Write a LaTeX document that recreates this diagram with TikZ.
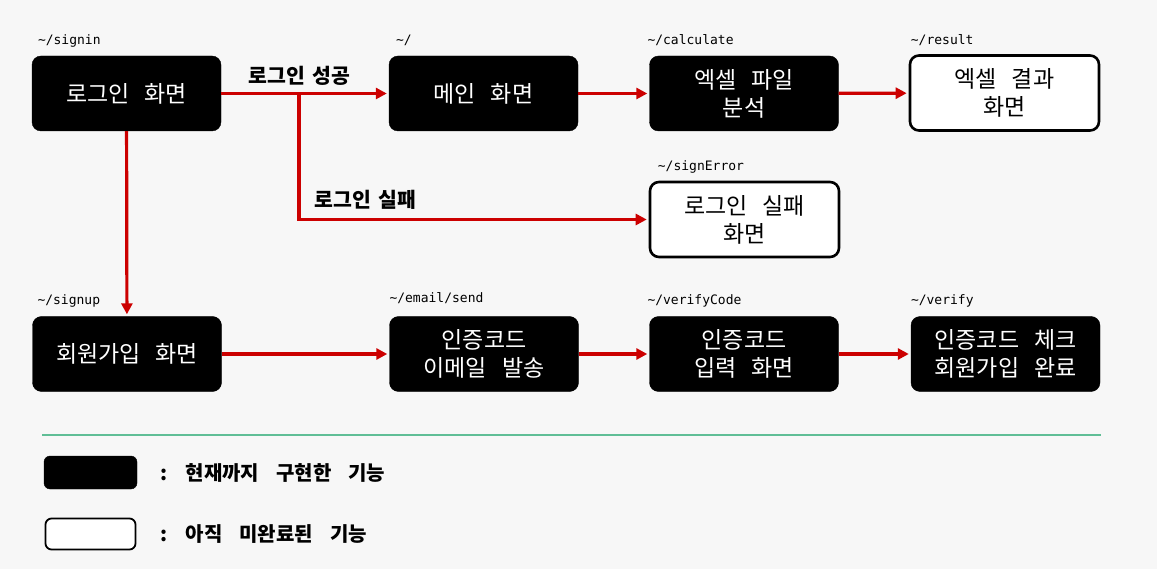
\documentclass[tikz,border=0pt]{standalone}
\usepackage{fontspec}
\setmainfont{Noto Sans CJK KR}[WordSpace=2.9]
\setmonofont{DejaVu Sans Mono}
\usetikzlibrary{arrows.meta,positioning}
\definecolor{paper}{RGB}{247,247,247}
\definecolor{flowred}{RGB}{204,0,0}
\definecolor{rulegreen}{RGB}{96,190,150}
\newcommand\condfont{\bfseries\fontsize{20.5}{21}\selectfont\spaceskip 7pt\relax}
\newcommand\keyfont{\bfseries\fontsize{20}{20}\selectfont\spaceskip 17pt\relax}

\begin{document}
\begin{tikzpicture}[x=1pt,y=-1pt,
  done/.style={draw=black,fill=black,text=white,rounded corners=9pt,
    minimum width=189pt,minimum height=75pt,align=center,inner sep=0pt,
    font=\fontsize{23}{28}\selectfont},
  todo/.style={done,fill=white,text=black,line width=2.6pt},
  route/.style={anchor=base west,inner sep=0pt,font=\ttfamily\fontsize{13}{13}\selectfont},
  cond/.style={inner sep=0pt,font=\condfont},
  flow/.style={draw=flowred,line width=3.2pt,shorten >=2pt,-{Triangle[length=11pt,width=11pt]}},
  key/.style={font=\keyfont,anchor=west,inner sep=0pt}
  ]
  \fill[paper] (0,0) rectangle (1157,569);

  % top row
  \node[done] (signin) at (126.5,93.5) {로그인 화면};
  \node[done] (main) at (483.5,93.5) {메인 화면};
  \node[done] (calc) at (744,93.5) {엑셀 파일\\분석};
  \node[todo] (result) at (1004.5,93) {엑셀 결과\\화면};
  \node[todo] (signerr) at (744.5,219.5) {로그인 실패\\화면};

  % bottom row
  \node[done] (signup) at (127,354) {회원가입 화면};
  \node[done] (email) at (484,354) {인증코드\\이메일 발송};
  \node[done] (vcode) at (744,354) {인증코드\\입력 화면};
  \node[done] (verify) at (1005.5,354) {인증코드 체크\\회원가입 완료};

  % routes
  \node[route] at ([xshift=6pt,yshift=11pt]signin.north west) {\string~/signin};
  \node[route] at ([xshift=7pt,yshift=11pt]main.north west) {\string~/};
  \node[route] at ([xshift=-2pt,yshift=11pt]calc.north west) {\string~/calculate};
  \node[route] at ([xshift=2pt,yshift=10pt]result.north west) {\string~/result};
  \node[route] at ([xshift=9pt,yshift=10pt]signerr.north west) {\string~/signError};
  \node[route] at ([xshift=5pt,yshift=12pt]signup.north west) {\string~/signup};
  \node[route] at ([xshift=0pt,yshift=14pt]email.north west) {\string~/email/send};
  \node[route] at ([xshift=-2pt,yshift=12pt]vcode.north west) {\string~/verifyCode};
  \node[route] at ([xshift=0pt,yshift=12pt]verify.north west) {\string~/verify};

  % connectors
  \coordinate (split) at (299,93.5);
  \draw[flow] (signin) -- (main);
  \draw[flow] (main) -- (calc);
  \draw[flow] (calc) -- (result);
  \draw[flow] (split) |- (signerr);
  \draw[flow] (signin) -- (signup);
  \draw[flow] (signup) -- (email);
  \draw[flow] (email) -- (vcode);
  \draw[flow] (vcode) -- (verify);
  \node[cond] (okLabel) at (299.5,76) {로그인 성공};
  \node[cond] (failLabel) at (365.5,200) {로그인 실패};

  % legend
  \draw[rulegreen,line width=2pt] (42,435) -- (1101,435);
  \node[draw=black,fill=black,rounded corners=6pt,minimum width=93pt,minimum height=33pt] (keyDone) at (90.5,472.5) {};
  \node[draw=black,fill=white,line width=1.8pt,rounded corners=6pt,minimum width=90pt,minimum height=31pt] (keyTodo) at (90.5,534) {};
  \node[key] (keyDoneText) at (160,472.5) {: 현재까지 구현한 기능};
  \node[key] (keyTodoText) at (160,534) {: 아직 미완료된 기능};
\end{tikzpicture}
\end{document}
